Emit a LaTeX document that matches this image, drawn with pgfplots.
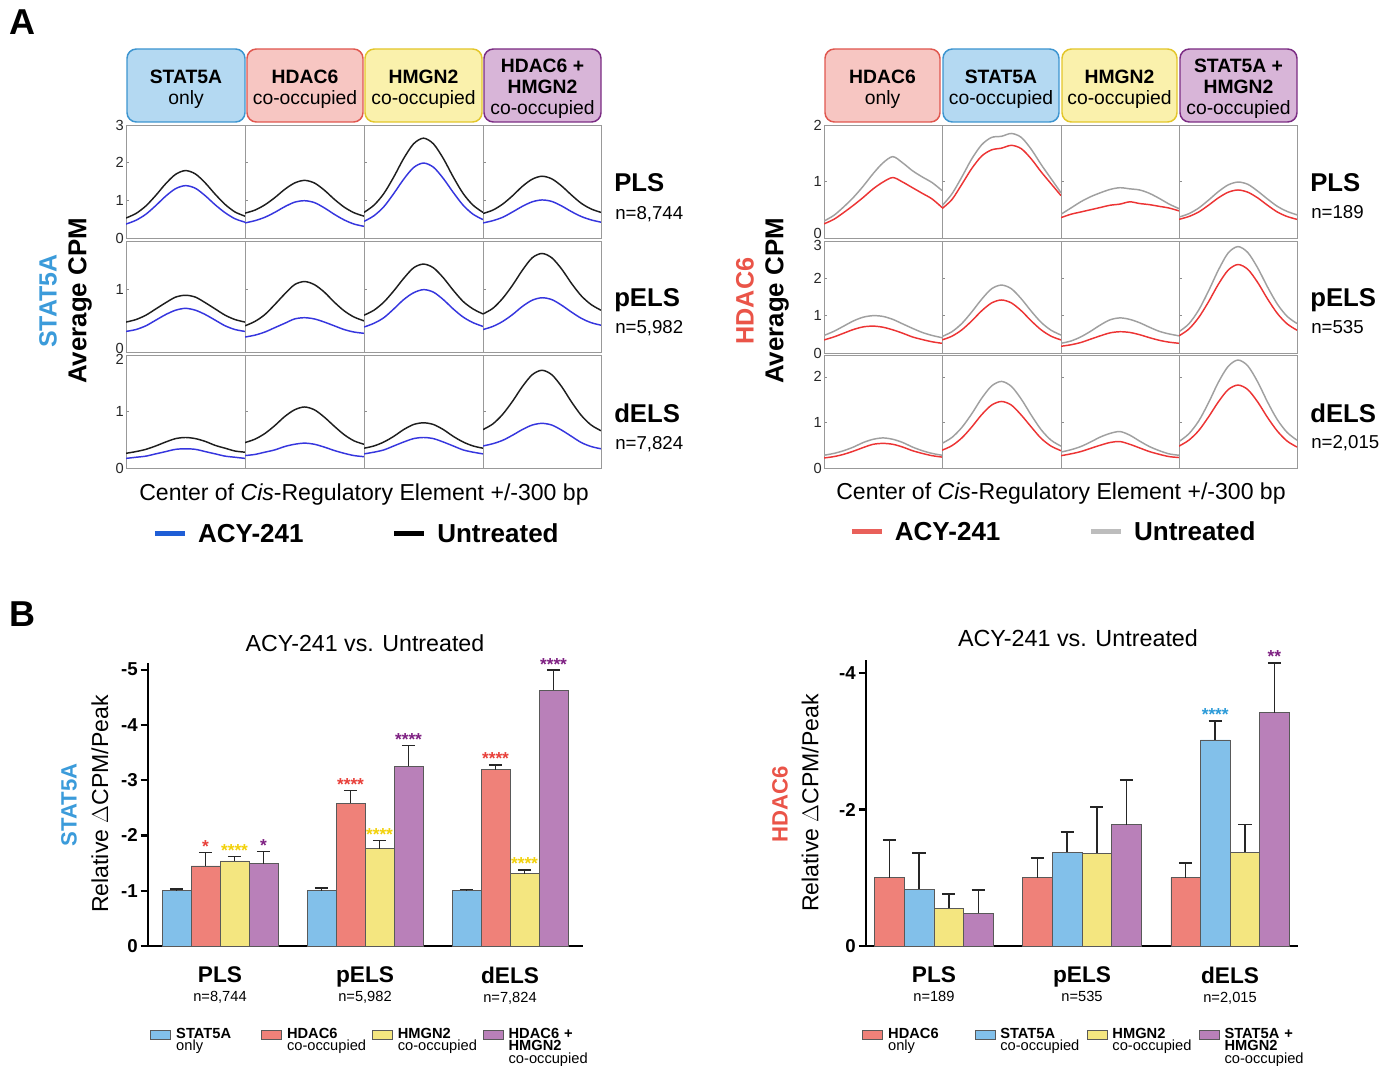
\documentclass[border=0pt]{standalone}
\usepackage{pgfplots}
\usepackage{pgfplotstable}
\pgfplotsset{compat=1.18}
\usepackage{fontspec}
\setmainfont{Liberation Sans}
\newcommand\fsz[2]{\fontsize{#1}{#2}\selectfont}

% colours
\definecolor{cblue}{HTML}{3636DE}
\definecolor{cblack}{HTML}{1E1E1E}
\definecolor{cred}{HTML}{EC3434}
\definecolor{cgray}{HTML}{A0A0A0}
\definecolor{lgblue}{HTML}{1F5ED6}
\definecolor{lgred}{HTML}{E9605A}
\definecolor{lggray}{HTML}{BDBDBD}
\definecolor{bblue}{HTML}{82C0EA}
\definecolor{bred}{HTML}{EF8179}
\definecolor{byel}{HTML}{F4E680}
\definecolor{bpur}{HTML}{B980B9}
\definecolor{hblueF}{HTML}{B4D9F2}\definecolor{hblueD}{HTML}{3D95D0}
\definecolor{hredF}{HTML}{F7C6C2}\definecolor{hredD}{HTML}{E0574F}
\definecolor{hyelF}{HTML}{FAF1AC}\definecolor{hyelD}{HTML}{E3C62A}
\definecolor{hpurF}{HTML}{D8B5D8}\definecolor{hpurD}{HTML}{7B2C83}
\definecolor{tblue}{HTML}{3B9BDA}
\definecolor{tred}{HTML}{EA5448}
\definecolor{sred}{HTML}{E8403A}
\definecolor{syel}{HTML}{F2D10A}
\definecolor{spur}{HTML}{7E2082}
\definecolor{sblue}{HTML}{2A9AD8}

% average profiles, one row per curve (u = untreated, a = ACY-241, row/column of the grid)
\pgfplotstableread{
name c0 c1 c2 c3 c4 c5 c6 c7 c8 c9 c10 c11 c12
x -300 -250 -200 -150 -100 -50 0 50 100 150 200 250 300
u11 .53 .65 .85 1.13 1.44 1.69 1.79 1.70 1.46 1.16 .89 .69 .58
a11 .37 .47 .63 .86 1.11 1.31 1.39 1.32 1.12 .88 .67 .51 .42
u12 .66 .74 .88 1.07 1.29 1.46 1.53 1.46 1.27 1.03 .82 .67 .58
a12 .40 .46 .55 .68 .83 .95 .99 .94 .80 .63 .48 .37 .31
u13 .68 .87 1.18 1.62 2.11 2.50 2.65 2.50 2.11 1.62 1.18 .87 .68
a13 .44 .59 .83 1.18 1.56 1.87 1.99 1.88 1.58 1.21 .87 .63 .49
u14 .65 .74 .90 1.12 1.37 1.56 1.64 1.57 1.38 1.14 .92 .77 .68
a14 .40 .46 .55 .69 .84 .96 1.01 .97 .85 .70 .57 .48 .42
u21 .48 .52 .59 .69 .79 .88 .91 .88 .79 .69 .59 .52 .48
a21 .33 .36 .42 .51 .60 .67 .70 .67 .60 .51 .42 .36 .33
u22 .42 .49 .60 .76 .93 1.08 1.13 1.08 .96 .80 .66 .56 .50
a22 .24 .27 .32 .39 .46 .53 .55 .53 .48 .42 .36 .32 .30
u23 .59 .67 .80 .98 1.18 1.35 1.41 1.35 1.19 .99 .81 .69 .61
a23 .40 .46 .55 .69 .84 .95 1.00 .96 .84 .69 .56 .47 .41
u24 .61 .70 .86 1.07 1.31 1.51 1.58 1.51 1.33 1.10 .90 .76 .67
a24 .36 .41 .49 .60 .73 .83 .87 .84 .75 .64 .54 .47 .43
u31 .26 .29 .33 .39 .46 .52 .54 .52 .47 .40 .35 .30 .28
a31 .17 .19 .21 .25 .29 .33 .34 .33 .29 .25 .21 .19 .17
u32 .45 .51 .61 .75 .91 1.03 1.08 1.03 .90 .74 .59 .48 .42
a32 .22 .24 .28 .32 .38 .42 .44 .42 .37 .31 .26 .22 .20
u33 .35 .39 .46 .56 .68 .77 .80 .77 .68 .56 .46 .39 .35
a33 .25 .28 .32 .39 .46 .52 .54 .52 .46 .39 .32 .28 .25
u34 .68 .78 .95 1.18 1.44 1.65 1.73 1.65 1.44 1.17 .93 .76 .66
a34 .39 .43 .49 .58 .68 .76 .79 .76 .67 .56 .45 .38 .34
}\rawL
\pgfplotstabletranspose[colnames from=name]{\tabL}{\rawL}

\pgfplotstableread{
name c0 c1 c2 c3 c4 c5 c6 c7 c8 c9 c10 c11 c12
x -300 -250 -200 -150 -100 -50 0 50 100 150 200 250 300
u11 .30 .40 .55 .72 .92 1.14 1.33 1.44 1.33 1.19 1.08 .98 .84
a11 .25 .33 .45 .58 .72 .87 .99 1.07 .99 .89 .79 .69 .54
u12 .57 .78 1.08 1.40 1.65 1.78 1.80 1.85 1.78 1.57 1.30 1.05 .80
a12 .52 .68 .95 1.23 1.45 1.56 1.59 1.64 1.58 1.40 1.17 .96 .75
u13 .42 .53 .64 .73 .80 .86 .89 .87 .85 .79 .70 .60 .52
a13 .36 .42 .46 .50 .54 .58 .60 .64 .61 .59 .56 .53 .48
u14 .37 .43 .53 .67 .82 .94 .99 .95 .83 .69 .56 .47 .41
a14 .33 .38 .46 .58 .71 .81 .85 .81 .71 .58 .46 .38 .33
u21 .47 .58 .72 .86 .96 1.00 .98 .90 .78 .66 .55 .47 .41
a21 .35 .43 .53 .63 .70 .72 .69 .62 .53 .43 .36 .30 .26
u22 .44 .57 .79 1.10 1.44 1.72 1.82 1.72 1.45 1.12 .82 .61 .48
a22 .35 .45 .62 .86 1.13 1.34 1.42 1.34 1.13 .86 .62 .45 .35
u23 .26 .32 .43 .58 .75 .89 .94 .90 .81 .69 .58 .51 .46
a23 .18 .22 .28 .37 .46 .54 .57 .55 .49 .41 .34 .29 .26
u24 .57 .78 1.15 1.66 2.22 2.68 2.85 2.69 2.28 1.77 1.31 .98 .79
a24 .46 .64 .95 1.37 1.84 2.22 2.37 2.24 1.89 1.45 1.06 .78 .61
u31 .28 .32 .38 .46 .56 .63 .66 .63 .56 .46 .38 .32 .28
a31 .22 .25 .30 .37 .45 .52 .54 .52 .46 .38 .32 .27 .24
u32 .54 .67 .89 1.19 1.53 1.80 1.90 1.79 1.51 1.16 .84 .61 .48
a32 .39 .49 .66 .90 1.17 1.38 1.46 1.38 1.16 .90 .65 .48 .38
u33 .35 .40 .47 .57 .68 .76 .80 .72 .59 .47 .38 .31 .28
a33 .27 .31 .36 .43 .50 .56 .58 .52 .44 .36 .30 .25 .23
u34 .58 .75 1.03 1.43 1.88 2.23 2.37 2.24 1.89 1.45 1.06 .78 .61
a34 .48 .61 .82 1.12 1.45 1.72 1.82 1.72 1.45 1.11 .81 .59 .46
}\rawR
\pgfplotstabletranspose[colnames from=name]{\tabR}{\rawR}

\pgfplotsset{
  prof/.style={scale only axis, xmin=-300, xmax=300, ymin=0,
    axis line style={black!40, line width=0.7pt}, xtick=\empty, ytick pos=left,
    tick style={black!45, line width=0.5pt}, major tick length=2.5pt, tick align=inside,
    yticklabel style={font=\fsz{11}{13}, text=black!85, inner sep=1.5pt},
    yticklabels={}},
  legA/.style={legend style={draw=none, fill=none, inner sep=0pt, anchor=west,
      legend columns=2, font=\bfseries\fsz{19.5}{22}, cells={anchor=base west},
      nodes={inner sep=0pt, inner xsep=8pt},
      /tikz/every even column/.append style={column sep=58pt}},
    legend image code/.code={\draw[##1] (0pt,7pt) -- (22.5pt,7pt);}},
  barax/.style={scale only axis, ymin=0, axis x line=bottom, axis y line=left,
    axis line style={-, black}, x axis line style={line width=2.2pt},
    y axis line style={line width=1.6pt},
    xtick={0,1,2}, xtick style={draw=none},
    xticklabel style={align=center, inner sep=0pt, text=black},
    ytick style={line width=1.6pt, black}, tick align=outside, major tick length=5.5pt,
    yticklabel style={font=\bfseries\fsz{14}{16}, inner sep=2pt},
    clip=false, bar width=0.2,
    error bars/y dir=plus, error bars/y explicit,
    error bars/error bar style={line width=1.2pt, black!85},
    error bars/error mark options={rotate=90, line width=1.2pt, black!85, mark size=5pt},
    legend style={draw=none, fill=none, inner sep=0pt, anchor=north west,
      legend columns=4, font=\fsz{11}{9}, cells={anchor=base west},
      nodes={inner sep=0pt, inner xsep=3.75pt}},
    legend image code/.code={\draw[##1, line width=0.6pt, draw=black!65] (0pt,-0.5pt) rectangle (15pt,6.5pt);}},
  bars/.style={ybar, draw=black!65, line width=0.5pt},
}
\tikzset{hdr/.style={line width=1.1pt, rounded corners=7pt, inner sep=0pt,
    minimum height=54.75pt},
  stars/.style={anchor=base, inner sep=0pt, font=\bfseries\fsz{13}{13}}}

\newcommand\panel[7]{%
  \coordinate (tmp) at (#1,#2);
  \begin{axis}[prof, at={(tmp)}, anchor=north west, width=#3, height=#4, #5]
    \addplot[untr] table[x=x, y=u#7] {#6};
    \addplot[acy] table[x=x, y=a#7] {#6};
  \end{axis}}
% header box: centre x, width, fill, border, text
\newcommand\hdr[5]{%
  \node[hdr, draw=#4, fill=#3, minimum width=#2] at (#1,85.5) {};
  \node[align=center, inner sep=0pt, font=\fsz{14.5}{15.75}] at (#1,89) {#5};}
\newcommand\legtwo[2]{\vtop{\baselineskip=9.3pt\lineskiplimit=-20pt\hbox{\textbf{#1}}\hbox{#2}}}
\newcommand\legthree[3]{\vtop{\baselineskip=9.3pt\lineskiplimit=-20pt\hbox{\textbf{#1}}\hbox{\textbf{#2}}\hbox{#3}}}
% tick label moved off its tick so that labels of stacked panels do not collide
\newcommand\nudge[2]{\raisebox{#1}[0pt][0pt]{#2}}

\begin{document}
\begin{tikzpicture}[x=0.75pt, y=-0.75pt]
\useasboundingbox (0,0) rectangle (1397,1066);

\node[font=\bfseries\fsz{27}{30}] at (22,22) {A};
\node[font=\bfseries\fsz{27}{30}] at (22,614) {B};

% ---- panel A, STAT5A ----
\hdr{186}{88.5pt}{hblueF}{hblueD}{\textbf{STAT5A}\\only}
\hdr{305}{87pt}{hredF}{hredD}{\textbf{HDAC6}\\co-occupied}
\hdr{423.5}{87.75pt}{hyelF}{hyelD}{\textbf{HMGN2}\\co-occupied}
\hdr{542.5}{87.75pt}{hpurF}{hpurD}{\textbf{HDAC6 +}\\\textbf{HMGN2}\\co-occupied}

\pgfplotsset{untr/.style={cblack, line width=1.1pt, smooth, forget plot},
  acy/.style={cblue, line width=1.1pt, smooth, forget plot}}
\panel{126}{125}{89.25pt}{84.75pt}{ymax=3, ytick={0,1,2,3}, yticklabels={0,1,2,3}}{\tabL}{11}
\panel{245}{125}{89.25pt}{84.75pt}{ymax=3, ytick={0,1,2,3}}{\tabL}{12}
\panel{364}{125}{89.25pt}{84.75pt}{ymax=3, ytick={0,1,2,3}}{\tabL}{13}
\panel{483}{125}{88.5pt}{84.75pt}{ymax=3, ytick={0,1,2,3}}{\tabL}{14}
\panel{126}{241}{89.25pt}{83.25pt}{ymax=1.78, ytick={0,1}, yticklabels={\nudge{-1pt}{0},1}}{\tabL}{21}
\panel{245}{241}{89.25pt}{83.25pt}{ymax=1.78, ytick={0,1}}{\tabL}{22}
\panel{364}{241}{89.25pt}{83.25pt}{ymax=1.78, ytick={0,1}}{\tabL}{23}
\panel{483}{241}{88.5pt}{83.25pt}{ymax=1.78, ytick={0,1}}{\tabL}{24}
\coordinate (tmp) at (126,355);
\begin{axis}[prof, at={(tmp)}, anchor=north west, width=89.25pt, height=84.75pt,
  ymax=2, ytick={0,1,2}, yticklabels={0,1,\nudge{-7pt}{2}}, legA, legend style={at={(0.22,-0.584)}}]
  \addplot[untr] table[x=x, y=u31] {\tabL};
  \addplot[acy] table[x=x, y=a31] {\tabL};
  \addlegendimage{lgblue, line width=3.75pt}\addlegendentry{ACY-241}
  \addlegendimage{black, line width=3.75pt}\addlegendentry{Untreated}
\end{axis}
\panel{245}{355}{89.25pt}{84.75pt}{ymax=2, ytick={0,1,2}}{\tabL}{32}
\panel{364}{355}{89.25pt}{84.75pt}{ymax=2, ytick={0,1,2}}{\tabL}{33}
\panel{483}{355}{88.5pt}{84.75pt}{ymax=2, ytick={0,1,2}}{\tabL}{34}

\node[rotate=90, font=\bfseries\fsz{18.7}{20}, text=tblue] at (48,301) {STAT5A};
\node[rotate=90, font=\bfseries\fsz{19.4}{21}] at (80,301) {Average CPM};
\node[anchor=base west, inner sep=0pt, font=\bfseries\fsz{19.3}{21}] at (614,192) {PLS};
\node[anchor=base west, inner sep=0pt, font=\fsz{14}{16}] at (615,220) {n=8,744};
\node[anchor=base west, inner sep=0pt, font=\bfseries\fsz{19.3}{21}] at (614,307) {pELS};
\node[anchor=base west, inner sep=0pt, font=\fsz{14}{16}] at (615,334) {n=5,982};
\node[anchor=base west, inner sep=0pt, font=\bfseries\fsz{19.3}{21}] at (614,422) {dELS};
\node[anchor=base west, inner sep=0pt, font=\fsz{14}{16}] at (615,450) {n=7,824};
\node[anchor=base, inner sep=0pt, font=\fsz{17.3}{20}] at (364,500) {Center of \textit{Cis}-Regulatory Element +/-300 bp};

% ---- panel A, HDAC6 ----
\hdr{882.5}{86.25pt}{hredF}{hredD}{\textbf{HDAC6}\\only}
\hdr{1001}{87pt}{hblueF}{hblueD}{\textbf{STAT5A}\\co-occupied}
\hdr{1119.5}{86.25pt}{hyelF}{hyelD}{\textbf{HMGN2}\\co-occupied}
\hdr{1238.5}{87.75pt}{hpurF}{hpurD}{\textbf{STAT5A +}\\\textbf{HMGN2}\\co-occupied}

\pgfplotsset{untr/.style={cgray, line width=1.1pt, smooth, forget plot},
  acy/.style={cred, line width=1.1pt, smooth, forget plot}}
\panel{824}{125}{88.5pt}{84.75pt}{ymax=2, ytick={0,1,2}, yticklabels={\nudge{-0.5pt}{0},1,2}}{\tabR}{11}
\panel{942}{125}{89.25pt}{84.75pt}{ymax=2, ytick={0,1,2}}{\tabR}{12}
\panel{1061}{125}{88.5pt}{84.75pt}{ymax=2, ytick={0,1,2}}{\tabR}{13}
\panel{1179}{125}{88.5pt}{84.75pt}{ymax=2, ytick={0,1,2}}{\tabR}{14}
\panel{824}{241}{88.5pt}{84pt}{ymax=3, ytick={0,1,2,3}, yticklabels={0,1,2,\nudge{-7pt}{3}}}{\tabR}{21}
\panel{942}{241}{89.25pt}{84pt}{ymax=3, ytick={0,1,2,3}}{\tabR}{22}
\panel{1061}{241}{88.5pt}{84pt}{ymax=3, ytick={0,1,2,3}}{\tabR}{23}
\panel{1179}{241}{88.5pt}{84pt}{ymax=3, ytick={0,1,2,3}}{\tabR}{24}
\coordinate (tmp) at (824,355);
\begin{axis}[prof, at={(tmp)}, anchor=north west, width=88.5pt, height=84.75pt,
  ymax=2.48, ytick={0,1,2}, yticklabels={0,1,2}, legA, legend style={at={(0.212,-0.566)}}]
  \addplot[untr] table[x=x, y=u31] {\tabR};
  \addplot[acy] table[x=x, y=a31] {\tabR};
  \addlegendimage{lgred, line width=3.75pt}\addlegendentry{ACY-241}
  \addlegendimage{lggray, line width=3.75pt}\addlegendentry{Untreated}
\end{axis}
\panel{942}{355}{89.25pt}{84.75pt}{ymax=2.48, ytick={0,1,2}}{\tabR}{32}
\panel{1061}{355}{88.5pt}{84.75pt}{ymax=2.48, ytick={0,1,2}}{\tabR}{33}
\panel{1179}{355}{88.5pt}{84.75pt}{ymax=2.48, ytick={0,1,2}}{\tabR}{34}

\node[rotate=90, font=\bfseries\fsz{18.9}{20}, text=tred] at (745,301) {HDAC6};
\node[rotate=90, font=\bfseries\fsz{19.4}{21}] at (777,301) {Average CPM};
\node[anchor=base west, inner sep=0pt, font=\bfseries\fsz{19.3}{21}] at (1310,192) {PLS};
\node[anchor=base west, inner sep=0pt, font=\fsz{14}{16}] at (1311,219) {n=189};
\node[anchor=base west, inner sep=0pt, font=\bfseries\fsz{19.3}{21}] at (1310,307) {pELS};
\node[anchor=base west, inner sep=0pt, font=\fsz{14}{16}] at (1311,334) {n=535};
\node[anchor=base west, inner sep=0pt, font=\bfseries\fsz{19.3}{21}] at (1310,422) {dELS};
\node[anchor=base west, inner sep=0pt, font=\fsz{14}{16}] at (1311,449) {n=2,015};
\node[anchor=base, inner sep=0pt, font=\fsz{17.3}{20}] at (1061,499) {Center of \textit{Cis}-Regulatory Element +/-300 bp};

% ---- panel B, STAT5A ----
\node[anchor=base, inner sep=0pt, font=\fsz{17.4}{19}] at (365,651) {ACY-241 vs. Untreated};
\node[rotate=90, font=\bfseries\fsz{16.6}{18}, text=tblue] at (69,805) {STAT5A};
\node[rotate=90, font=\fsz{17.3}{19}] at (100,804) {Relative $\Delta$CPM/Peak};
\coordinate (bl) at (148,946);
\begin{axis}[barax, at={(bl)}, anchor=south west, width=326.25pt, height=212.25pt,
  xmin=-0.4966, xmax=2.5034, ymax=5.12,
  ytick={0,1,2,3,4,5}, yticklabels={0,-1,-2,-3,-4,-5},
  xticklabels={{\fsz{17}{18}\textbf{PLS}\\[2pt]\fsz{11}{13}n=8,744},
    {\fsz{17}{18}\textbf{pELS}\\[2pt]\fsz{11}{13}n=5,982},
    {\fsz{17}{18}\textbf{dELS}\\[2pt]\fsz{11}{13}n=7,824}},
  xticklabel style={yshift=-10pt},
  legend style={at={(0.005,-0.29)}, nodes={text width=60pt}}]
  \addplot[bars, fill=bblue] coordinates {(-0.3,1.00) +- (0,0.03) (0.7,1.00) +- (0,0.05) (1.7,1.00) +- (0,0.02)};
  \addlegendentry{\legtwo{STAT5A}{only}}
  \addplot[bars, fill=bred] coordinates {(-0.1,1.45) +- (0,0.24) (0.9,2.58) +- (0,0.23) (1.9,3.19) +- (0,0.09)};
  \addlegendentry{\legtwo{HDAC6}{co-occupied}}
  \addplot[bars, fill=byel] coordinates {(0.1,1.54) +- (0,0.08) (1.1,1.76) +- (0,0.15) (2.1,1.31) +- (0,0.07)};
  \addlegendentry{\legtwo{HMGN2}{co-occupied}}
  \addplot[bars, fill=bpur] coordinates {(0.3,1.49) +- (0,0.22) (1.3,3.25) +- (0,0.38) (2.3,4.63) +- (0,0.36)};
  \addlegendentry{\legthree{HDAC6 +}{HMGN2}{co-occupied}}
  \node[stars, text=sred] at (axis cs:-0.1,1.69) {*};
  \node[stars, text=sred] at (axis cs:0.9,2.81) {****};
  \node[stars, text=sred] at (axis cs:1.9,3.28) {****};
  \node[stars, text=syel] at (axis cs:0.1,1.62) {****};
  \node[stars, text=syel] at (axis cs:1.1,1.91) {****};
  \node[stars, text=syel] at (axis cs:2.1,1.38) {****};
  \node[stars, text=spur] at (axis cs:0.3,1.71) {*};
  \node[stars, text=spur] at (axis cs:1.3,3.63) {****};
  \node[stars, text=spur] at (axis cs:2.3,4.99) {****};
\end{axis}

% ---- panel B, HDAC6 ----
\node[anchor=base, inner sep=0pt, font=\fsz{17.5}{19}] at (1078,646) {ACY-241 vs. Untreated};
\node[rotate=90, font=\bfseries\fsz{16.6}{18}, text=tred] at (780,804) {HDAC6};
\node[rotate=90, font=\fsz{17.3}{19}] at (810,803) {Relative $\Delta$CPM/Peak};
\coordinate (br) at (866,946);
\begin{axis}[barax, at={(br)}, anchor=south west, width=324pt, height=214.5pt,
  xmin=-0.459, xmax=2.459, ymax=4.19,
  ytick={0,2,4}, yticklabels={0,-2,-4},
  xticklabels={{\fsz{17}{18}\textbf{PLS}\\[2pt]\fsz{11}{13}n=189},
    {\fsz{17}{18}\textbf{pELS}\\[2pt]\fsz{11}{13}n=535},
    {\fsz{17}{18}\textbf{dELS}\\[2pt]\fsz{11}{13}n=2,015}},
  xticklabel style={yshift=-10pt},
  legend style={at={(-0.009,-0.287)}, nodes={text width=61pt}}]
  \addplot[bars, fill=bred] coordinates {(-0.3,1.00) +- (0,0.55) (0.7,1.00) +- (0,0.29) (1.7,1.00) +- (0,0.22)};
  \addlegendentry{\legtwo{HDAC6}{only}}
  \addplot[bars, fill=bblue] coordinates {(-0.1,0.83) +- (0,0.53) (0.9,1.37) +- (0,0.30) (1.9,3.02) +- (0,0.28)};
  \addlegendentry{\legtwo{STAT5A}{co-occupied}}
  \addplot[bars, fill=byel] coordinates {(0.1,0.55) +- (0,0.21) (1.1,1.36) +- (0,0.68) (2.1,1.37) +- (0,0.41)};
  \addlegendentry{\legtwo{HMGN2}{co-occupied}}
  \addplot[bars, fill=bpur] coordinates {(0.3,0.48) +- (0,0.34) (1.3,1.78) +- (0,0.65) (2.3,3.42) +- (0,0.73)};
  \addlegendentry{\legthree{STAT5A +}{HMGN2}{co-occupied}}
  \node[stars, text=sblue] at (axis cs:1.9,3.30) {****};
  \node[stars, text=spur] at (axis cs:2.3,4.15) {**};
\end{axis}
\end{tikzpicture}
\end{document}
